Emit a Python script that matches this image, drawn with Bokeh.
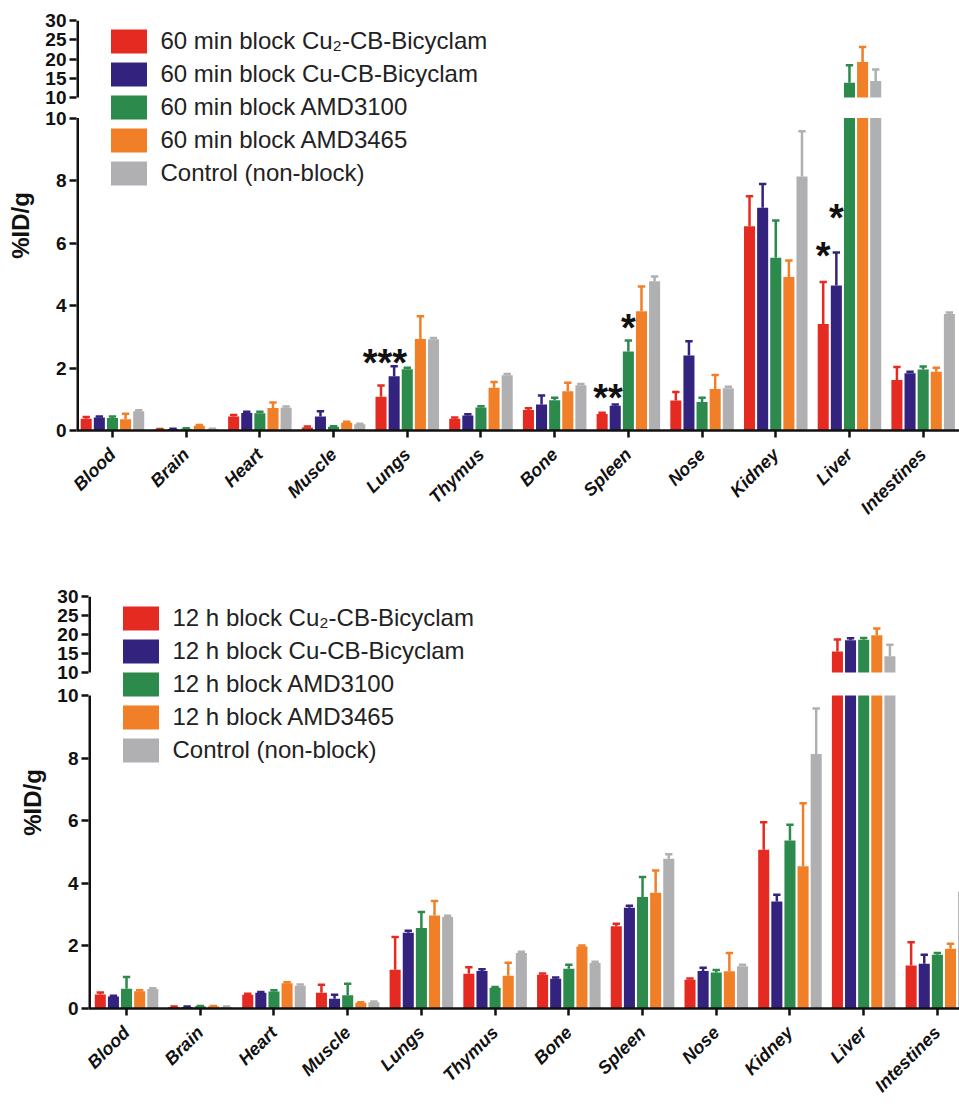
import math
from bokeh.plotting import figure
from bokeh.models import Range1d, FixedTicker, Legend, LegendItem, Spacer
from bokeh.layouts import column, row
from bokeh.embed import file_html
from bokeh.resources import INLINE
from bokeh.core.properties import value

# ---------------- data ----------------
categories = ["Blood", "Brain", "Heart", "Muscle", "Lungs", "Thymus", "Bone",
              "Spleen", "Nose", "Kidney", "Liver", "Intestines"]

lower_ticks = [0, 2, 4, 6, 8, 10]
upper_ticks = [10, 15, 20, 25, 30]

labels_60 = ["60 min block Cu\u2082-CB-Bicyclam", "60 min block Cu-CB-Bicyclam",
             "60 min block AMD3100", "60 min block AMD3465", "Control (non-block)"]
labels_12 = ["12 h block Cu\u2082-CB-Bicyclam", "12 h block Cu-CB-Bicyclam",
             "12 h block AMD3100", "12 h block AMD3465", "Control (non-block)"]

# 60 min block
cu2_60 = [0.38, 0.04, 0.45, 0.10, 1.08, 0.38, 0.66, 0.53, 0.96, 6.54, 3.41, 1.62]
cu2_60_err = [0.05, 0.01, 0.05, 0.03, 0.36, 0.04, 0.05, 0.04, 0.27, 0.96, 1.34, 0.41]
cu_60 = [0.42, 0.05, 0.56, 0.45, 1.74, 0.48, 0.83, 0.79, 2.40, 7.13, 4.64, 1.83]
cu_60_err = [0.03, 0.01, 0.04, 0.17, 0.32, 0.04, 0.29, 0.04, 0.46, 0.76, 1.06, 0.05]
amd3100_60 = [0.40, 0.06, 0.55, 0.12, 1.96, 0.74, 0.97, 2.53, 0.91, 5.53, 13.8, 1.95]
amd3100_60_err = [0.05, 0.01, 0.05, 0.02, 0.05, 0.04, 0.08, 0.35, 0.14, 1.19, 4.6, 0.10]
amd3465_60 = [0.36, 0.15, 0.72, 0.25, 2.93, 1.37, 1.26, 3.82, 1.33, 4.91, 19.2, 1.88]
amd3465_60_err = [0.18, 0.03, 0.18, 0.03, 0.73, 0.18, 0.27, 0.79, 0.45, 0.53, 3.9, 0.13]

# 12 h block
cu2_12 = [0.45, 0.05, 0.44, 0.50, 1.24, 1.11, 1.08, 2.63, 0.92, 5.07, 15.5, 1.37]
cu2_12_err = [0.06, 0.01, 0.03, 0.26, 1.04, 0.21, 0.04, 0.08, 0.04, 0.88, 3.2, 0.75]
cu_12 = [0.38, 0.05, 0.50, 0.31, 2.42, 1.20, 0.95, 3.22, 1.20, 3.42, 18.5, 1.43]
cu_12_err = [0.03, 0.01, 0.03, 0.13, 0.06, 0.05, 0.04, 0.06, 0.10, 0.21, 0.5, 0.29]
amd3100_12 = [0.63, 0.07, 0.54, 0.42, 2.57, 0.66, 1.27, 3.56, 1.15, 5.37, 18.6, 1.72]
amd3100_12_err = [0.38, 0.01, 0.04, 0.37, 0.51, 0.03, 0.13, 0.64, 0.08, 0.50, 0.5, 0.05]
amd3465_12 = [0.55, 0.07, 0.81, 0.18, 2.97, 1.05, 1.98, 3.70, 1.19, 4.54, 19.8, 1.91]
amd3465_12_err = [0.03, 0.01, 0.03, 0.02, 0.46, 0.41, 0.03, 0.71, 0.58, 2.02, 1.8, 0.16]

# control (non-block), same in both panels
control = [0.62, 0.05, 0.73, 0.20, 2.92, 1.77, 1.45, 4.78, 1.35, 8.13, 14.3, 3.73]
control_err = [0.03, 0.01, 0.04, 0.02, 0.04, 0.04, 0.04, 0.15, 0.05, 1.45, 3.0, 0.05]

# significance markers: (category, bar slot, level in %ID/g, text)
stars_60 = [("Lungs", 0.3, 2.40, "***"), ("Spleen", 0.45, 1.28, "**"),
            ("Spleen", 2.0, 3.52, "*"), ("Liver", 0.0, 5.82, "*"),
            ("Liver", 1.0, 7.04, "*")]
stars_12 = []

colors = ["#e52b21", "#33237e", "#2c8a4d", "#f07f27", "#b0b0b3"]

FONT = "Liberation Sans"
INK = "#111111"
SLOT = 0.178
BAR_W = 0.15
CAP = 0.05


def make_panel(series, errors, labels, stars, x_start, x_end, frame_w, frame_h,
               lower_end, upper_start, border_left, border_top, border_bottom,
               legend_loc):
    p = figure(frame_width=frame_w, frame_height=frame_h,
               x_range=Range1d(x_start, x_end), y_range=Range1d(0, lower_end),
               output_backend="svg", toolbar_location=None,
               min_border_left=border_left, min_border_right=0,
               min_border_top=border_top, min_border_bottom=border_bottom)
    p.extra_y_ranges = {"upper": Range1d(upper_start, 30)}
    p.outline_line_color = None
    p.xgrid.visible = False
    p.ygrid.visible = False
    p.background_fill_color = "white"
    p.border_fill_color = "white"

    items = []
    for k, (vals, errs) in enumerate(zip(series, errors)):
        xs = [i + (k - 2) * SLOT for i in range(len(categories))]
        low_top = [min(v, 10) for v in vals]
        r = p.vbar(x=xs, top=low_top, bottom=0, width=BAR_W,
                   fill_color=colors[k], line_color=None)
        items.append(LegendItem(label=labels[k], renderers=[r]))
        lo = [(x, v, e) for x, v, e in zip(xs, vals, errs) if v <= 10]
        hi = [(x, v, e) for x, v, e in zip(xs, vals, errs) if v > 10]
        if lo:
            lx = [a[0] for a in lo]
            lv = [a[1] for a in lo]
            le = [a[1] + a[2] for a in lo]
            p.segment(x0=lx, y0=lv, x1=lx, y1=le, line_color=colors[k], line_width=2.5)
            p.segment(x0=[x - CAP for x in lx], y0=le, x1=[x + CAP for x in lx], y1=le,
                      line_color=colors[k], line_width=2.5)
        if hi:
            hx = [a[0] for a in hi]
            hv = [a[1] for a in hi]
            he = [a[1] + a[2] for a in hi]
            p.vbar(x=hx, top=hv, bottom=10, width=BAR_W, fill_color=colors[k],
                   line_color=None, y_range_name="upper")
            p.segment(x0=hx, y0=hv, x1=hx, y1=he, line_color=colors[k],
                      line_width=2.5, y_range_name="upper")
            p.segment(x0=[x - CAP for x in hx], y0=he, x1=[x + CAP for x in hx], y1=he,
                      line_color=colors[k], line_width=2.5, y_range_name="upper")

    if stars:
        sx = [categories.index(c) + (s - 2) * SLOT for c, s, _, _ in stars]
        sy = [lvl for _, _, lvl, _ in stars]
        st = [t for _, _, _, t in stars]
        p.text(x=sx, y=sy, text=st, text_font=value(FONT), text_font_size="38px",
               text_font_style="bold", text_color=INK, text_align="center",
               text_baseline="alphabetic", y_offset=7)

    # broken y axis: both segments' ticks on one axis, upper ticks placed by the
    # fraction they occupy on the "upper" range
    def to_main(u):
        return round((u - upper_start) / (30 - upper_start) * lower_end, 6)

    tick_pos = [float(t) for t in lower_ticks] + [to_main(u) for u in upper_ticks]
    overrides = {float(t): str(t) for t in lower_ticks}
    overrides.update({to_main(u): str(u) for u in upper_ticks})

    ya = p.yaxis[0]
    ya.bounds = (0, to_main(30))
    ya.ticker = FixedTicker(ticks=tick_pos)
    ya.major_label_overrides = overrides
    ya.axis_line_color = None
    ya.major_tick_line_width = 2.5
    ya.major_tick_line_color = INK
    ya.major_tick_out = 7
    ya.major_tick_in = 0
    ya.minor_tick_line_color = None
    ya.major_label_text_font = FONT
    ya.major_label_text_font_style = "bold"
    ya.major_label_text_font_size = "19px"
    ya.major_label_text_color = INK
    ya.major_label_standoff = 3
    ya.axis_label = "%ID/g"
    ya.axis_label_text_font = FONT
    ya.axis_label_text_font_style = "bold"
    ya.axis_label_text_font_size = "24px"
    ya.axis_label_standoff = 8
    ya.axis_label_text_color = INK

    # axis line pieces of the broken axis
    p.segment(x0=[x_start], y0=[0], x1=[x_start], y1=[10], line_color=INK, line_width=5)
    p.segment(x0=[x_start], y0=[10], x1=[x_start], y1=[30], line_color=INK,
              line_width=5, y_range_name="upper")

    xa = p.xaxis[0]
    xa.ticker = FixedTicker(ticks=list(range(len(categories))))
    xa.major_label_overrides = {i: c for i, c in enumerate(categories)}
    xa.major_label_orientation = math.pi / 4
    xa.major_label_text_font = FONT
    xa.major_label_text_font_style = "bold italic"
    xa.major_label_text_font_size = "18px"
    xa.major_label_text_color = INK
    xa.major_label_standoff = 14
    xa.axis_line_width = 2.5
    xa.axis_line_color = INK
    xa.major_tick_line_width = 2.5
    xa.major_tick_line_color = INK
    xa.major_tick_out = 7
    xa.major_tick_in = 0
    xa.minor_tick_line_color = None

    legend = Legend(items=items, location=legend_loc, glyph_width=45, glyph_height=30,
                    spacing=3, padding=0, margin=0, label_standoff=10,
                    label_text_font=FONT, label_text_font_size="24px",
                    label_text_color="#222222", background_fill_alpha=0,
                    border_line_color=None)
    p.add_layout(legend)
    return p


p1 = make_panel([cu2_60, cu_60, amd3100_60, amd3465_60, control],
                [cu2_60_err, cu_60_err, amd3100_60_err, amd3465_60_err, control_err],
                labels_60, stars_60,
                x_start=-0.488, x_end=11.493, frame_w=883, frame_h=410,
                lower_end=13.12, upper_start=-76.49,
                border_left=76, border_top=20, border_bottom=140,
                legend_loc=(29.5, 242))

p2 = make_panel([cu2_12, cu_12, amd3100_12, amd3465_12, control],
                [cu2_12_err, cu_12_err, amd3100_12_err, amd3465_12_err, control_err],
                labels_12, stars_12,
                x_start=-0.516, x_end=11.30, frame_w=871, frame_h=412,
                lower_end=13.16, upper_start=-78.4,
                border_left=76, border_top=26, border_bottom=100,
                legend_loc=(29.5, 243))

layout = column(p1, row(Spacer(width=12, height=10), p2))
open("out.html", "w").write(file_html(layout, INLINE))
